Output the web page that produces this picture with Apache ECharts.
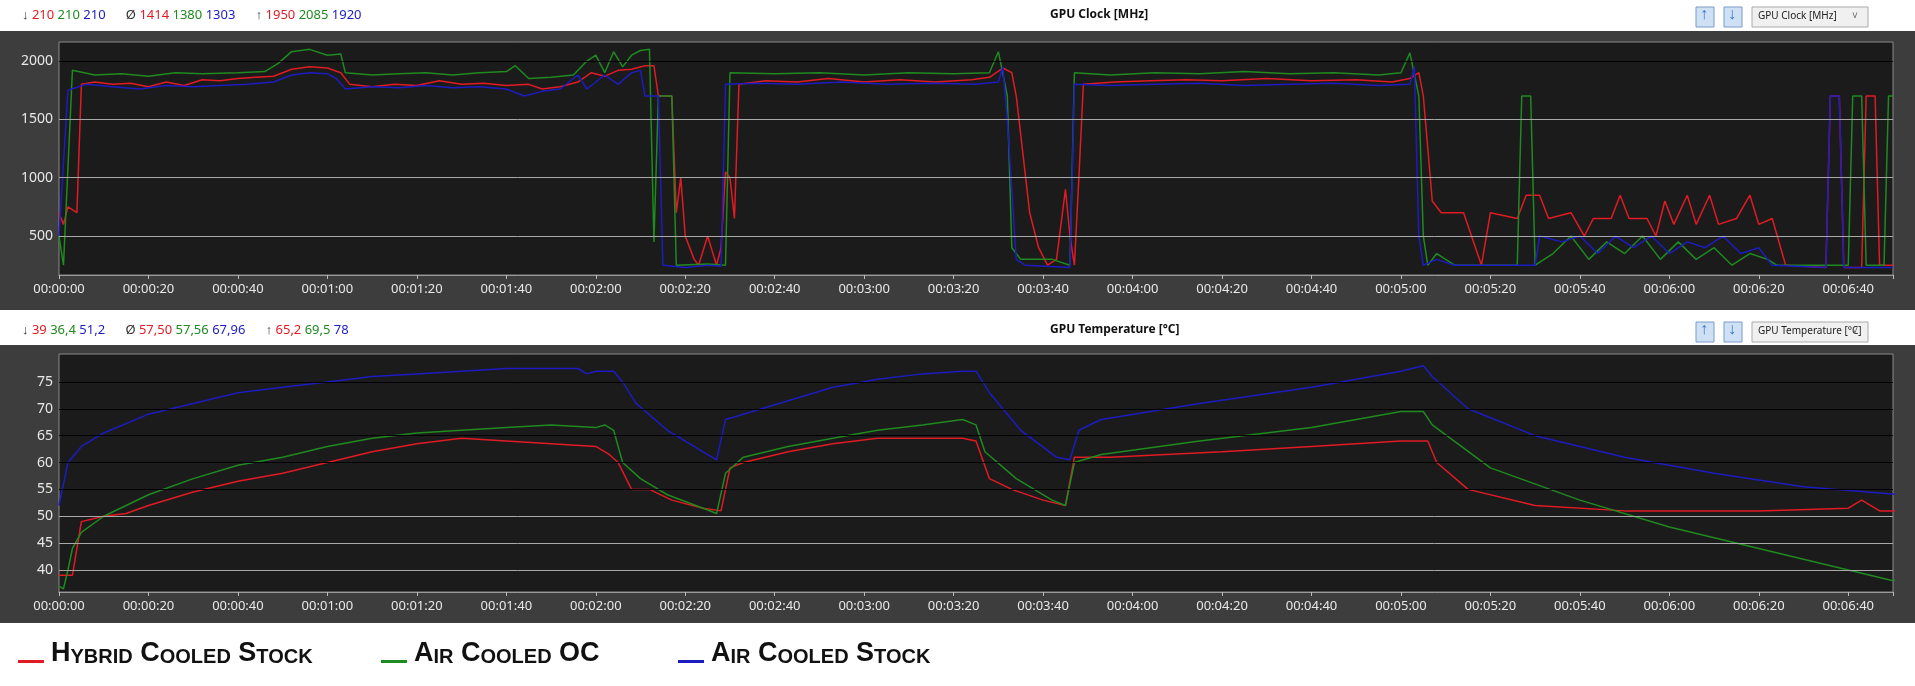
<!DOCTYPE html>
<html>
<head>
<meta charset="utf-8">
<script src="https://cdn.jsdelivr.net/npm/echarts@6/dist/echarts.min.js"></script>
<style>html,body{margin:0;padding:0;background:#fff}#chart{width:1915px;height:686px}</style>
</head>
<body>
<div id="chart"></div>
<script>
// seconds, value pairs
var clockRed = [[0,700],[1,600],[2,750],[4,700],[5,1800],[8,1820],[12,1800],[16,1810],[20,1780],[24,1820],[28,1790],[32,1840],[36,1830],[40,1850],[44,1860],[48,1870],[52,1930],[56,1950],[60,1940],[63,1900],[65,1800],[70,1780],[75,1800],[80,1790],[85,1830],[90,1800],[95,1810],[100,1790],[105,1800],[108,1760],[112,1780],[116,1820],[119,1900],[122,1870],[125,1920],[128,1930],[131,1960],[133,1960],[134,1700],[137,1700],[138,700],[139,1000],[140,500],[142,300],[143,250],[145,500],[147,250],[148,400],[149,1050],[150,1000],[151,650],[152,1800],[158,1830],[165,1820],[172,1850],[180,1820],[188,1840],[196,1820],[204,1840],[208,1860],[211,1940],[213,1900],[214,1700],[217,700],[219,400],[221,250],[223,300],[225,900],[226,500],[227,250],[228,1000],[229,1800],[236,1820],[244,1830],[252,1840],[260,1830],[270,1850],[280,1830],[290,1840],[298,1820],[302,1850],[304,1900],[305,1700],[307,800],[309,700],[314,700],[318,250],[320,700],[326,650],[328,850],[331,850],[333,650],[338,700],[341,500],[343,650],[347,650],[349,850],[351,650],[355,650],[357,500],[359,800],[361,600],[364,850],[366,600],[369,850],[371,600],[375,650],[378,850],[380,600],[383,650],[386,250],[395,230],[396,1700],[398,1700],[399,230],[403,230],[404,1700],[406,1700],[407,250],[410,250]];
var clockGreen = [[0,500],[1,250],[3,1920],[8,1880],[14,1890],[20,1870],[26,1900],[32,1890],[40,1900],[46,1910],[49,1980],[52,2080],[56,2100],[60,2050],[63,2060],[64,1900],[70,1880],[76,1890],[82,1900],[88,1880],[94,1900],[100,1910],[102,1960],[105,1850],[110,1860],[115,1880],[118,2000],[120,2050],[122,1900],[124,2080],[126,1950],[128,2050],[130,2090],[132,2100],[133,450],[134,1700],[137,1700],[138,250],[145,260],[149,250],[150,1900],[160,1890],[170,1900],[180,1880],[190,1900],[200,1890],[208,1900],[210,2080],[212,1700],[213,400],[215,300],[222,300],[226,250],[227,1900],[235,1880],[245,1900],[255,1890],[265,1910],[275,1890],[285,1900],[295,1880],[300,1900],[302,2070],[304,1700],[305,500],[306,250],[308,350],[312,250],[326,250],[327,1700],[329,1700],[330,250],[334,350],[338,500],[342,300],[346,450],[350,350],[354,500],[358,300],[362,450],[366,300],[370,400],[374,250],[378,350],[382,300],[384,250],[400,250],[401,1700],[403,1700],[404,250],[408,250],[409,1700],[410,1700]];
var clockBlue = [[0,500],[2,1750],[6,1800],[12,1780],[18,1760],[24,1790],[30,1780],[36,1790],[42,1800],[48,1820],[52,1880],[56,1900],[60,1890],[62,1850],[64,1760],[70,1780],[76,1770],[82,1790],[88,1770],[94,1780],[100,1760],[104,1700],[108,1740],[112,1760],[116,1880],[118,1760],[122,1880],[125,1800],[128,1900],[130,1920],[131,1700],[134,1700],[135,250],[140,230],[145,250],[148,240],[149,1800],[156,1810],[165,1800],[175,1820],[185,1800],[195,1810],[205,1800],[210,1820],[211,1950],[212,1500],[214,300],[216,250],[226,230],[227,1800],[235,1790],[245,1800],[255,1810],[265,1790],[275,1800],[285,1810],[295,1790],[302,1800],[303,1950],[304,500],[305,250],[308,300],[312,250],[330,250],[331,500],[336,450],[340,500],[344,350],[348,500],[352,400],[356,500],[360,350],[364,450],[368,400],[372,500],[376,350],[380,400],[383,250],[395,230],[396,1700],[398,1700],[399,230],[410,230]];

var tempRed = [[0,39],[3,39],[5,49],[10,50],[15,50.5],[20,52],[30,54.5],[40,56.5],[50,58],[60,60],[70,62],[80,63.5],[90,64.5],[100,64],[110,63.5],[120,63],[123,61.5],[125,60],[128,55],[132,55],[137,53],[144,51.5],[148,51],[150,59],[153,60],[163,62],[173,63.5],[183,64.5],[193,64.5],[202,64.5],[205,64],[208,57],[213,55],[220,53],[225,52],[227,61],[235,61],[260,62],[280,63],[300,64],[306,64],[308,60],[315,55],[330,52],[350,51],[380,51],[400,51.5],[403,53],[407,51],[412,51]];
var tempGreen = [[0,37],[1,36.5],[2,40],[3,44],[5,47],[10,50],[20,54],[30,57],[40,59.5],[50,61],[60,63],[70,64.5],[80,65.5],[90,66],[100,66.5],[110,67],[120,66.5],[122,67],[124,66],[126,60],[130,57],[136,54],[144,51.5],[147,50.5],[149,58],[153,61],[163,63],[173,64.5],[183,66],[193,67],[202,68],[205,67],[207,62],[214,57],[222,53],[225,52],[227,60],[233,61.5],[255,64],[280,66.5],[300,69.5],[305,69.5],[307,67],[320,59],[340,53],[360,48],[380,44],[400,40],[410,38],[413,39]];
var tempBlue = [[0,52],[2,60],[5,63],[10,65.5],[20,69],[30,71],[40,73],[50,74],[60,75],[70,76],[80,76.5],[90,77],[100,77.5],[110,77.5],[116,77.5],[118,76.5],[120,77],[124,77],[126,75],[129,71],[136,66],[144,62],[147,60.5],[149,68],[153,69],[163,71.5],[173,74],[183,75.5],[193,76.5],[202,77],[205,77],[208,73],[215,66],[223,61],[226,60.5],[228,66],[233,68],[255,71],[280,74],[300,77],[305,78],[307,76],[315,70],[330,65],[350,61],[370,58],[390,55.5],[412,54]];

var clockTicks = [500, 1000, 1500, 2000];
var tempTicks = [40, 45, 50, 55, 60, 65, 70, 75];
var colors = ['#e01b24', '#1f8a1f', '#1c1cc0'];

function hms(v) {
    var m = Math.floor(v / 60), s = v % 60;
    return '00:0' + m + ':' + (s < 10 ? '0' : '') + s;
}
function gridLines(ticks, darkFrom) {
    return {
        silent: true, symbol: 'none', label: {show: false},
        data: ticks.map(function (t) {
            return {yAxis: t, lineStyle: {color: t >= darkFrom ? '#000' : '#a8a8a8', width: 1, type: 'solid'}};
        })
    };
}
function line(data, i, grid, ml) {
    var s = {type: 'line', data: data, xAxisIndex: grid, yAxisIndex: grid, symbol: 'none',
        lineStyle: {color: colors[i], width: 1.5}, z: 3, animation: false};
    if (ml) s.markLine = ml;
    return s;
}
function xAx(grid) {
    return {type: 'value', gridIndex: grid, min: 0, max: 410, interval: 20,
        axisLine: {lineStyle: {color: '#999'}}, splitLine: {show: false},
        axisTick: {show: true, length: 4, lineStyle: {color: '#bbb'}},
        axisLabel: {color: '#e8e8e8', fontSize: 13, fontFamily: 'Noto Sans', margin: 8,
            formatter: function (v) { return v > 400 ? '' : hms(v); }}};
}
function yAx(grid, min, max, ticks) {
    return {type: 'value', gridIndex: grid, min: min, max: max,
        axisLine: {show: false}, axisTick: {show: false}, splitLine: {show: false},
        axisLabel: {color: '#e8e8e8', fontSize: 14, fontFamily: 'Noto Sans', customValues: ticks, margin: 6,
            formatter: function (v) { return String(v); }}};
}
function stats(y, parts) {
    var txt = '', rich = {a: {fill: '#333'}, r: {fill: colors[0]}, g: {fill: colors[1]}, b: {fill: colors[2]}};
    parts.forEach(function (p) {
        txt += '{a|' + p[0] + '} {r|' + p[1][0] + '} {g|' + p[1][1] + '} {b|' + p[1][2] + '}      ';
    });
    return {type: 'text', left: 22, top: y, style: {text: txt, rich: rich, fontSize: 13, fontFamily: 'Noto Sans'}};
}
function header(y, title) {
    return [
        {type: 'text', left: 1050, top: y, style: {text: title, fontSize: 12, fontWeight: 'bold', fill: '#111', fontFamily: 'Noto Sans', align: 'center'}},
        {type: 'rect', shape: {x: 1696, y: y - 2, width: 18, height: 20}, style: {fill: '#cfe0f5', stroke: '#7a9cc8'}},
        {type: 'text', left: 1700, top: y - 2, style: {text: '↑', fontSize: 16, fill: '#3a78c8', fontWeight: 'bold'}},
        {type: 'rect', shape: {x: 1724, y: y - 2, width: 18, height: 20}, style: {fill: '#cfe0f5', stroke: '#7a9cc8'}},
        {type: 'text', left: 1728, top: y - 2, style: {text: '↓', fontSize: 16, fill: '#3a78c8', fontWeight: 'bold'}},
        {type: 'rect', shape: {x: 1752, y: y - 2, width: 116, height: 20}, style: {fill: '#f0f0f0', stroke: '#aaa'}},
        {type: 'text', left: 1758, top: y + 2, style: {text: title, fontSize: 10, fill: '#222', fontFamily: 'Noto Sans'}},
        {type: 'text', left: 1852, top: y + 2, style: {text: '˅', fontSize: 10, fill: '#666'}}
    ];
}
function legendItem(x, i, rich) {
    return [
        {type: 'rect', shape: {x: x, y: 660, width: 26, height: 3}, style: {fill: colors[i]}},
        {type: 'text', left: x + 33, top: 640, style: {text: rich, fontSize: 27, fontWeight: 'bold', fill: '#111', fontFamily: 'Liberation Sans',
            rich: {s: {fontSize: 20, fontWeight: 'bold', fill: '#111', fontFamily: 'Liberation Sans', verticalAlign: 'bottom', padding: [6, 0, 0, 0]}}}}
    ];
}

var chart = echarts.init(document.getElementById('chart'));
var graphics = [
    {type: 'rect', shape: {x: 0, y: 31, width: 1915, height: 279}, style: {fill: '#3d3d3d'}, z: -10},
    {type: 'rect', shape: {x: 0, y: 345, width: 1915, height: 278}, style: {fill: '#3d3d3d'}, z: -10},
    stats(9, [['↓', [210, 210, 210]], ['Ø', [1414, 1380, 1303]], ['↑', [1950, 2085, 1920]]]),
    stats(324, [['↓', ['39', '36,4', '51,2']], ['Ø', ['57,50', '57,56', '67,96']], ['↑', ['65,2', '69,5', '78']]])
].concat(header(9, 'GPU Clock [MHz]'), header(324, 'GPU Temperature [°C]'),
    legendItem(18, 0, 'H{s|YBRID} C{s|OOLED} S{s|TOCK}'),
    legendItem(381, 1, 'A{s|IR} C{s|OOLED} OC'),
    legendItem(678, 2, 'A{s|IR} C{s|OOLED} S{s|TOCK}'));

chart.setOption({
    backgroundColor: '#fff',
    animation: false,
    graphic: graphics,
    grid: [
        {left: 59, right: 22, top: 42, height: 233, show: true, backgroundColor: '#1b1b1b', borderColor: '#8a8a8a', borderWidth: 1},
        {left: 59, right: 22, top: 354, height: 238, show: true, backgroundColor: '#1b1b1b', borderColor: '#8a8a8a', borderWidth: 1}
    ],
    xAxis: [xAx(0), xAx(1)],
    yAxis: [yAx(0, 166, 2163, clockTicks), yAx(1, 35.9, 80.2, tempTicks)],
    series: [
        line(clockRed, 0, 0, gridLines(clockTicks, 2000)),
        line(clockGreen, 1, 0),
        line(clockBlue, 2, 0),
        line(tempRed, 0, 1, gridLines(tempTicks, 55)),
        line(tempGreen, 1, 1),
        line(tempBlue, 2, 1)
    ]
});
</script>
</body>
</html>
